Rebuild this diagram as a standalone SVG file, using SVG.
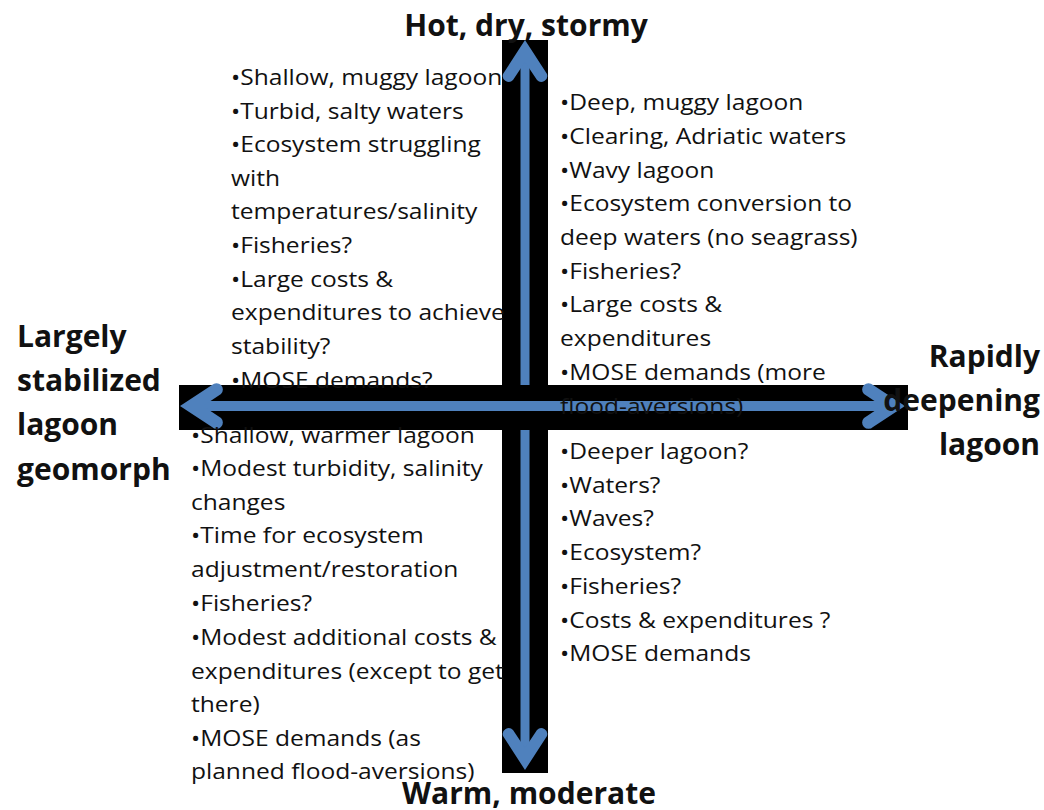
<svg xmlns="http://www.w3.org/2000/svg" width="1044" height="810" viewBox="0 0 1044 810">
<style>
.body{font-family:"Open Sans","Liberation Sans",sans-serif;font-size:21px;fill:#111;}
.lbl{font-family:"Open Sans","Liberation Sans",sans-serif;font-size:30px;font-weight:bold;fill:#111;}
.bar{fill:#000;}
.shaft{stroke:#4f81bd;fill:none;}
.head{fill:#4f81bd;}
</style>
<rect width="1044" height="810" fill="#fff"/>
<g id="connectors">
  <rect class="bar" x="502" y="40" width="46" height="733"/>
  <line class="shaft" x1="525" y1="58" x2="525" y2="752" stroke-width="9"/>
  <path class="head" d="M525,40 L503,74 A6,6 0 0 0 513,80 L525,62 L537,80 A6,6 0 0 0 547,74 Z"/>
  <path class="head" d="M525,770 L503,736 A6,6 0 0 1 513,730 L525,748 L537,730 A6,6 0 0 1 547,736 Z"/>
  <rect class="bar" x="179" y="385" width="729" height="45"/>
  <line class="shaft" x1="200" y1="406" x2="885" y2="406" stroke-width="10"/>
  <path class="head" d="M180,406 L212,385 A6,6 0 0 1 221,394 L203,406 L221,418 A6,6 0 0 1 212,427 Z"/>
  <path class="head" d="M905,406 L873,385 A6,6 0 0 0 864,394 L882,406 L864,418 A6,6 0 0 0 873,427 Z"/>
</g>
<g id="quad-tl" class="body" transform="translate(231 0) scale(1.17 1)">
  <text x="0" y="85">•Shallow, muggy lagoon</text>
  <text x="0" y="119">•Turbid, salty waters</text>
  <text x="0" y="152">•Ecosystem struggling</text>
  <text x="0" y="186">with</text>
  <text x="0" y="219">temperatures/salinity</text>
  <text x="0" y="253">•Fisheries?</text>
  <text x="0" y="287">•Large costs &amp;</text>
  <text x="0" y="320">expenditures to achieve</text>
  <text x="0" y="354">stability?</text>
  <text x="0" y="388">•MOSE demands?</text>
</g>
<g id="quad-tr" class="body" transform="translate(560 0) scale(1.17 1)">
  <text x="0" y="110">•Deep, muggy lagoon</text>
  <text x="0" y="144">•Clearing, Adriatic waters</text>
  <text x="0" y="178">•Wavy lagoon</text>
  <text x="0" y="211">•Ecosystem conversion to</text>
  <text x="0" y="245">deep waters (no seagrass)</text>
  <text x="0" y="279">•Fisheries?</text>
  <text x="0" y="312">•Large costs &amp;</text>
  <text x="0" y="346">expenditures</text>
  <text x="0" y="380">•MOSE demands (more</text>
  <text x="0" y="414">flood-aversions)</text>
</g>
<g id="quad-bl" class="body" transform="translate(191 0) scale(1.17 1)">
  <text x="0" y="443">•Shallow, warmer lagoon</text>
  <text x="0" y="476">•Modest turbidity, salinity</text>
  <text x="0" y="510">changes</text>
  <text x="0" y="543">•Time for ecosystem</text>
  <text x="0" y="577">adjustment/restoration</text>
  <text x="0" y="611">•Fisheries?</text>
  <text x="0" y="645">•Modest additional costs &amp;</text>
  <text x="0" y="679">expenditures (except to get</text>
  <text x="0" y="712">there)</text>
  <text x="0" y="746">•MOSE demands (as</text>
  <text x="0" y="779">planned flood-aversions)</text>
</g>
<g id="quad-br" class="body" transform="translate(560 0) scale(1.17 1)">
  <text x="0" y="459">•Deeper lagoon?</text>
  <text x="0" y="493">•Waters?</text>
  <text x="0" y="526">•Waves?</text>
  <text x="0" y="560">•Ecosystem?</text>
  <text x="0" y="594">•Fisheries?</text>
  <text x="0" y="628">•Costs &amp; expenditures ?</text>
  <text x="0" y="661">•MOSE demands</text>
</g>
<g id="label-top"><text class="lbl" x="526" y="36" text-anchor="middle">Hot, dry, stormy</text></g>
<g id="label-bottom"><text class="lbl" x="529" y="804" text-anchor="middle">Warm, moderate</text></g>
<g id="label-left" class="lbl">
  <text x="17" y="347">Largely</text>
  <text x="17" y="391">stabilized</text>
  <text x="17" y="435">lagoon</text>
  <text x="17" y="480">geomorph</text>
</g>
<g id="label-right" class="lbl" text-anchor="end">
  <text x="1040" y="367">Rapidly</text>
  <text x="1040" y="411">deepening</text>
  <text x="1040" y="455">lagoon</text>
</g>
</svg>
